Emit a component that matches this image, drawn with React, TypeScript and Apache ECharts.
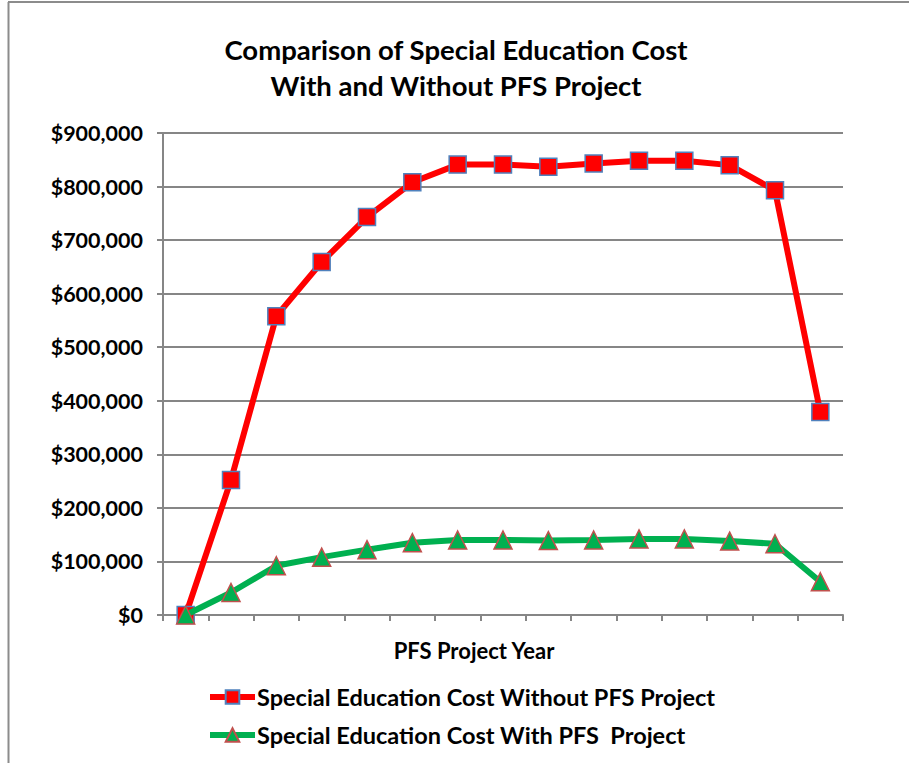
import React, { useEffect, useRef } from "react";
import * as echarts from "echarts";

const years = ["1", "2", "3", "4", "5", "6", "7", "8", "9", "10", "11", "12", "13", "14", "15"];
const withoutPFS = [0, 252000, 558000, 659000, 743000, 808000, 841000, 841000, 837000, 843000, 848000, 848000, 840000, 793000, 379000];
const withPFS = [0, 42000, 92000, 108000, 122000, 135000, 140000, 140000, 139000, 140000, 142000, 142000, 138000, 133000, 62000];
const titleLines = ["Comparison of Special Education Cost", "With and Without PFS Project"];
const xAxisTitle = "PFS Project Year";
const seriesNames = ["Special Education Cost Without PFS Project", "Special Education Cost With PFS  Project"];

const FONT = "Lato, 'Open Sans', sans-serif";

export default function App() {
  const ref = useRef<HTMLDivElement>(null);
  useEffect(() => {
    if (!ref.current) return;
    const chart = echarts.init(ref.current, null, { renderer: "svg" });
    chart.setOption({
      animation: false,
      backgroundColor: "#ffffff",
      textStyle: { fontFamily: FONT },
      title: {
        text: titleLines.join("\n"),
        left: 451,
        top: 26,
        textAlign: "center",
        textStyle: { fontSize: 27.5, fontWeight: "bold", color: "#000", lineHeight: 36, fontFamily: FONT },
      },
      grid: { left: 163, right: 66, top: 133, bottom: 148, containLabel: false },
      xAxis: {
        type: "category",
        data: years,
        boundaryGap: true,
        axisLine: { lineStyle: { color: "#868686", width: 2 } },
        axisTick: { show: true, length: 6, lineStyle: { color: "#868686", width: 2 } },
        axisLabel: { show: false },
        splitLine: { show: false },
      },
      yAxis: {
        type: "value",
        min: 0,
        max: 900000,
        interval: 100000,
        axisLine: { show: true, lineStyle: { color: "#868686", width: 2 } },
        axisTick: { show: true, length: 6, lineStyle: { color: "#868686", width: 2 } },
        splitLine: { show: true, lineStyle: { color: "#868686", width: 2 } },
        axisLabel: {
          margin: 20,
          fontSize: 21.5,
          fontWeight: "bold",
          color: "#000",
          fontFamily: FONT,
          formatter: (v: number) => "$" + v.toLocaleString("en-US"),
        },
      },
      legend: {
        orient: "vertical",
        left: 202,
        top: 680,
        itemWidth: 45,
        itemHeight: 17,
        itemGap: 14,
        lineStyle: { width: 6 },
        textStyle: { fontSize: 23.5, fontWeight: "bold", color: "#000", fontFamily: FONT, padding: [0, 0, 0, -3] },
        data: seriesNames,
      },
      series: [
        {
          name: seriesNames[0],
          type: "line",
          data: withoutPFS,
          symbol: "rect",
          symbolSize: 17,
          lineStyle: { color: "#ff0000", width: 6 },
          itemStyle: { color: "#ff0000", borderColor: "#4f81bd", borderWidth: 1.5 },
          z: 2,
        },
        {
          name: seriesNames[1],
          type: "line",
          data: withPFS,
          symbol: "triangle",
          symbolSize: 18,
          lineStyle: { color: "#00b050", width: 6 },
          itemStyle: { color: "#00b050", borderColor: "#c0504d", borderWidth: 1.5 },
          z: 3,
        },
      ],
      graphic: [
        {
          type: "text",
          x: 474,
          y: 650,
          style: { text: xAxisTitle, font: "bold 22px " + FONT, fill: "#000", align: "center", verticalAlign: "middle" },
        },
        { type: "line", shape: { x1: 8.5, y1: 2, x2: 8.5, y2: 763 }, style: { stroke: "#8c8c8c", lineWidth: 2 } },
        { type: "line", shape: { x1: 8, y1: 2, x2: 909, y2: 2 }, style: { stroke: "#8c8c8c", lineWidth: 2 } },
      ],
    });
    return () => chart.dispose();
  }, []);
  return <div ref={ref} style={{ width: 909, height: 763, position: "absolute", left: 0, top: 0 }} />;
}
